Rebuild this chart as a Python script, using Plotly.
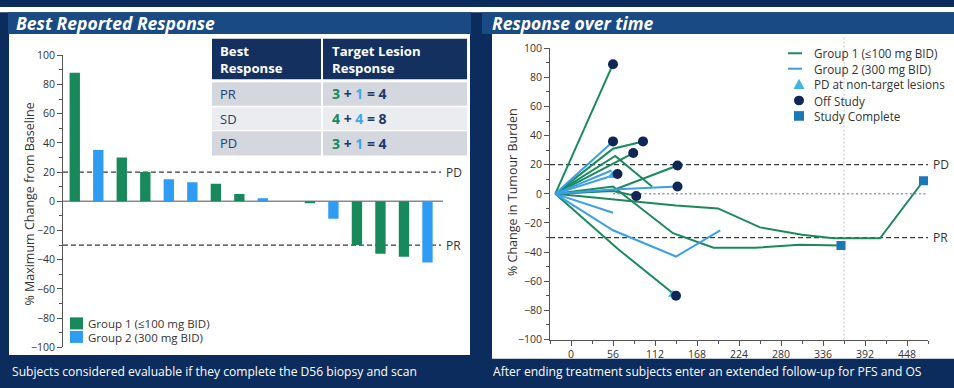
import plotly.graph_objects as go

W, H = 954, 388


def fx(px):
    return px / W


def fy(py):
    return 1 - py / H


# ---------------- data: best reported response (waterfall) ----------------
patients = ["S01", "S02", "S03", "S04", "S05", "S06", "S07", "S08",
            "S09", "S10", "S11", "S12", "S13", "S14", "S15", "S16"]
best_change = [88, 35, 30, 20, 15, 13, 12, 5, 2, 0, -1, -12, -30, -36, -38, -42]
bar_group = [1, 2, 1, 1, 2, 2, 1, 1, 2, 1, 1, 2, 1, 1, 1, 2]

group_names = {1: "Group 1 (≤100 mg BID)", 2: "Group 2 (300 mg BID)"}

pd_threshold = 20
pr_threshold = -30

# response table
table_rows = ["PR", "SD", "PD"]
table_g1 = [3, 4, 3]
table_g2 = [1, 4, 1]

# ---------------- data: response over time ----------------
line_group = [1, 1, 1, 1, 1, 1, 1, 1, 1, 2, 2, 2, 2, 2, 2]
line_days = [
    [-21, 56],
    [-21, 56, 96],
    [-21, 59, 108],
    [-21, 56, 83],
    [-21, 56, 136, 190, 245, 305, 360],
    [-21, 56, 87],
    [-21, 56, 142],
    [-21, 56, 140, 196, 252, 308, 350, 412, 470],
    [-21, 63, 140],
    [-21, 56],
    [-21, 62],
    [-21, 54],
    [-21, 56, 142],
    [-21, 56],
    [-21, 56, 140, 199],
]
line_change = [
    [0, 89],
    [0, 31, 36],
    [0, 26, 5],
    [0, 21, 28],
    [0, 5, -27, -37, -37, -35, -35.5],
    [0, 2, -1.5],
    [0, 2.5, 19.5],
    [0, -4, -8, -10, -23, -28, -30.5, -30.5, 9],
    [0, -38, -70],
    [0, 36],
    [0, 13.6],
    [0, 16],
    [0, 3, 5],
    [0, -13],
    [0, -25, -43, -25],
]
line_end = ["off", "off", None, "off", "complete", "off", "off", "complete", "off",
            "off", "off", None, "off", None, None]
pd_nontarget_days = [55, 136]
pd_nontarget_change = [12.5, -69]

y_ticks = [-100, -80, -60, -40, -20, 0, 20, 40, 60, 80, 100]
x_ticks = [0, 56, 112, 168, 224, 280, 336, 392, 448]
week52_day = 364

# ---------------- styles ----------------
GREEN = "#17895b"
BLUE = "#2e9cf2"
LINE_GREEN = "#1a8a5d"
LINE_BLUE = "#3a9fe8"
NAVY_DOT = "#0f2656"
SQUARE = "#1a78b4"
TRI = "#40b4ea"
BG = "#0c2c5e"
BAR_BG = "#1a4a84"
TXT = "#333333"
FONT = "Open Sans, DejaVu Sans, sans-serif"

bar_colors = {1: GREEN, 2: BLUE}
line_colors = {1: LINE_GREEN, 2: LINE_BLUE}

fig = go.Figure()

# bars
for g in (1, 2):
    xs = [p for p, gg in zip(patients, bar_group) if gg == g]
    ys = [v for v, gg in zip(best_change, bar_group) if gg == g]
    fig.add_trace(go.Bar(x=xs, y=ys, name=group_names[g], marker_color=bar_colors[g],
                         marker_line_width=0, width=0.44, xaxis="x", yaxis="y",
                         showlegend=False))

# lines
for g, d, c in zip(line_group, line_days, line_change):
    fig.add_trace(go.Scatter(x=d, y=c, mode="lines", line=dict(color=line_colors[g], width=2),
                             xaxis="x2", yaxis="y2", showlegend=False, hoverinfo="x+y"))

fig.add_trace(go.Scatter(x=pd_nontarget_days, y=pd_nontarget_change, mode="markers",
                         marker=dict(symbol="triangle-up", size=9, color=TRI),
                         xaxis="x2", yaxis="y2", showlegend=False, name="PD at non-target lesions"))

off_x = [d[-1] for d, e in zip(line_days, line_end) if e == "off"]
off_y = [c[-1] for c, e in zip(line_change, line_end) if e == "off"]
fig.add_trace(go.Scatter(x=off_x, y=off_y, mode="markers",
                         marker=dict(symbol="circle", size=10, color=NAVY_DOT),
                         xaxis="x2", yaxis="y2", showlegend=False, name="Off Study"))

comp_x = [d[-1] for d, e in zip(line_days, line_end) if e == "complete"]
comp_y = [c[-1] for c, e in zip(line_change, line_end) if e == "complete"]
fig.add_trace(go.Scatter(x=comp_x, y=comp_y, mode="markers",
                         marker=dict(symbol="square", size=9, color=SQUARE),
                         xaxis="x2", yaxis="y2", showlegend=False, name="Study Complete"))

shapes = []
ann = []


def rect(x0, y0, x1, y1, color, layer="below"):
    shapes.append(dict(type="rect", xref="paper", yref="paper", x0=fx(x0), x1=fx(x1),
                       y0=fy(y1), y1=fy(y0), fillcolor=color, line=dict(width=0), layer=layer))


# background pieces
rect(0, 0, W, 5.5, "#ffffff")
rect(8, 5.5, 471, 28, BAR_BG)
rect(482, 5.5, W, 28, BAR_BG)
rect(9, 28, 470, 361, "#ffffff")
rect(492, 28, W, 365, "#ffffff")

# table
rect(212, 33, 321, 75, "#13305f")
rect(323, 33, 467, 75, "#13305f")
row_bounds = [(78, 102.5), (104, 127.5), (129, 154)]
row_cols = ["#d4d7de", "#eaecf0", "#d4d7de"]
for (a, b), col in zip(row_bounds, row_cols):
    rect(212, a, 321, b, col)
    rect(323, a, 467, b, col)

ann.append(dict(text="<b>Best<br>Response</b>", x=fx(218), y=fy(54), xref="paper", yref="paper",
                xanchor="left", yanchor="middle", align="left", showarrow=False,
                font=dict(family=FONT, size=13.2, color="white")))
ann.append(dict(text="<b>Target Lesion<br>Response</b>", x=fx(330), y=fy(54), xref="paper",
                yref="paper", xanchor="left", yanchor="middle", align="left", showarrow=False,
                font=dict(family=FONT, size=13.2, color="white")))
for (a, b), r, g1, g2 in zip(row_bounds, table_rows, table_g1, table_g2):
    yc = (a + b) / 2
    ann.append(dict(text=r, x=fx(218), y=fy(yc), xref="paper", yref="paper", xanchor="left",
                    yanchor="middle", showarrow=False,
                    font=dict(family=FONT, size=13, color="#24406e")))
    txt = (f"<b><span style='color:{GREEN}'>{g1}</span> + "
           f"<span style='color:#3aa8ea'>{g2}</span> = {g1 + g2}</b>")
    ann.append(dict(text=txt, x=fx(330), y=fy(yc), xref="paper", yref="paper", xanchor="left",
                    yanchor="middle", showarrow=False,
                    font=dict(family=FONT, size=14, color="#1d3a6a")))

# left chart reference lines
shapes.append(dict(type="line", xref="paper", yref="y", x0=fx(63), x1=fx(443), y0=0, y1=0,
                   line=dict(color="#8a8a8a", width=1.5), layer="below"))
for val, lab in ((pd_threshold, "PD"), (pr_threshold, "PR")):
    shapes.append(dict(type="line", xref="paper", yref="y", x0=fx(63), x1=fx(441), y0=val, y1=val,
                       line=dict(color="#3c3c3c", width=1.3, dash="5px,3px"), layer="below"))
    ann.append(dict(text=lab, x=fx(444), y=val, xref="paper", yref="y", xanchor="left",
                    yanchor="middle", showarrow=False, font=dict(family=FONT, size=12, color=TXT)))

# right chart reference lines
shapes.append(dict(type="line", xref="x2", yref="y2", x0=56, x1=476, y0=0, y1=0,
                   line=dict(color="#9a9a9a", width=1.5, dash="2px,2.5px"), layer="below"))
shapes.append(dict(type="line", xref="x2", yref="paper", x0=week52_day, x1=week52_day,
                   y0=fy(345), y1=fy(30), line=dict(color="#c4c4c4", width=1, dash="2px,2px"),
                   layer="below"))
for val, lab in ((pd_threshold, "PD"), (pr_threshold, "PR")):
    shapes.append(dict(type="line", xref="x2", yref="y2", x0=-28, x1=476, y0=val, y1=val,
                       line=dict(color="#3c3c3c", width=1.3, dash="5px,3px"), layer="below"))
    ann.append(dict(text=lab, x=fx(931), y=val, xref="paper", yref="y2", xanchor="left",
                    yanchor="middle", showarrow=False, font=dict(family=FONT, size=12, color=TXT)))

# left legend
for i, g in enumerate((1, 2)):
    y0 = 322 + i * 14
    rect(70, y0, 83, y0 + 12.5, bar_colors[g], layer="above")
    ann.append(dict(text=group_names[g], x=fx(86), y=fy(y0 + 6.5), xref="paper", yref="paper",
                    xanchor="left", yanchor="middle", showarrow=False,
                    font=dict(family=FONT, size=11.5, color=TXT)))

# right legend
leg_y = [48, 64, 80, 97, 113]
leg_txt = [group_names[1], group_names[2], "PD at non-target lesions", "Off Study", "Study Complete"]
for i, (yy, t) in enumerate(zip(leg_y, leg_txt)):
    ann.append(dict(text=t, x=fx(812), y=fy(yy), xref="paper", yref="paper", xanchor="left",
                    yanchor="middle", showarrow=False, font=dict(family=FONT, size=11.7, color=TXT)))
for yy, g in zip(leg_y[:2], (1, 2)):
    shapes.append(dict(type="line", xref="paper", yref="paper", x0=fx(788), x1=fx(802),
                       y0=fy(yy), y1=fy(yy), line=dict(color=line_colors[g], width=2)))
ty = leg_y[2]
shapes.append(dict(type="path", xref="paper", yref="paper",
                   path=f"M {fx(793.5)} {fy(ty + 5)} L {fx(804.5)} {fy(ty + 5)} L {fx(799)} {fy(ty - 5.5)} Z",
                   fillcolor=TRI, line=dict(width=0)))
cy = leg_y[3]
shapes.append(dict(type="circle", xref="paper", yref="paper", x0=fx(794), x1=fx(804),
                   y0=fy(cy + 5), y1=fy(cy - 5), fillcolor=NAVY_DOT, line=dict(width=0)))
sy = leg_y[4]
shapes.append(dict(type="rect", xref="paper", yref="paper", x0=fx(794), x1=fx(804),
                   y0=fy(sy + 5), y1=fy(sy - 5), fillcolor=SQUARE, line=dict(width=0)))

# titles
ann.append(dict(text="<b><i>Best Reported Response</i></b>", x=fx(14), y=fy(16.5), xref="paper",
                yref="paper", xanchor="left", yanchor="middle", showarrow=False,
                font=dict(family=FONT, size=17.5, color="white")))
ann.append(dict(text="<b><i>Response over time</i></b>", x=fx(490), y=fy(16.5), xref="paper",
                yref="paper", xanchor="left", yanchor="middle", showarrow=False,
                font=dict(family=FONT, size=17.5, color="white")))

# axis titles
ann.append(dict(text="% Maximum Change from Baseline", x=fx(30), y=fy(205), xref="paper",
                yref="paper", textangle=-90, showarrow=False, xanchor="center", yanchor="middle",
                font=dict(family=FONT, size=12.5, color=TXT)))
ann.append(dict(text="% Change in Tumour Burden", x=fx(512), y=fy(192), xref="paper",
                yref="paper", textangle=-90, showarrow=False, xanchor="center", yanchor="middle",
                font=dict(family=FONT, size=12.5, color=TXT)))

# footers
ann.append(dict(text="Subjects considered evaluable if they complete the D56 biopsy and scan",
                x=fx(10), y=fy(378), xref="paper", yref="paper", xanchor="left", yanchor="middle",
                showarrow=False, font=dict(family=FONT, size=12.1, color="white")))
ann.append(dict(text="After ending treatment subjects enter an extended follow-up for PFS and OS",
                x=fx(491), y=fy(378), xref="paper", yref="paper", xanchor="left", yanchor="middle",
                showarrow=False, font=dict(family=FONT, size=12.1, color="white")))

yax_common = dict(range=[-100, 100], tickvals=y_ticks, ticks="outside", ticklen=5, tickwidth=1,
                  tickcolor="#555", showline=True, linecolor="#555", linewidth=1, showgrid=False,
                  zeroline=False, tickfont=dict(family=FONT, size=10.5, color=TXT),
                  minor=dict(dtick=10, ticks="outside", ticklen=3, tickcolor="#555"))

fig.update_layout(
    width=W, height=H, autosize=False,
    margin=dict(l=0, r=0, t=0, b=0),
    paper_bgcolor=BG, plot_bgcolor="rgba(0,0,0,0)",
    bargap=0.5, showlegend=False,
    xaxis=dict(domain=[fx(63), fx(443)], type="category", categoryorder="array",
               categoryarray=patients, range=[-0.5, 15.66], visible=False),
    yaxis=dict(domain=[fy(353), fy(50)], anchor="x", **yax_common),
    xaxis2=dict(domain=[fx(550), fx(928)], range=[-28, 476], anchor="y2", tickvals=x_ticks,
                ticks="outside", ticklen=5, tickcolor="#555", showline=True, linecolor="#555",
                linewidth=1, showgrid=False, zeroline=False,
                tickfont=dict(family=FONT, size=10.5, color=TXT),
                minor=dict(tick0=0, dtick=28, ticks="outside", ticklen=3, tickcolor="#555")),
    yaxis2=dict(domain=[fy(345), fy(42.7)], anchor="x2", **yax_common),
    shapes=shapes, annotations=ann,
)

fig.write_html("out.html", config={"displayModeBar": False},
               post_script="document.body.style.margin='0';document.body.style.overflow='hidden';")
